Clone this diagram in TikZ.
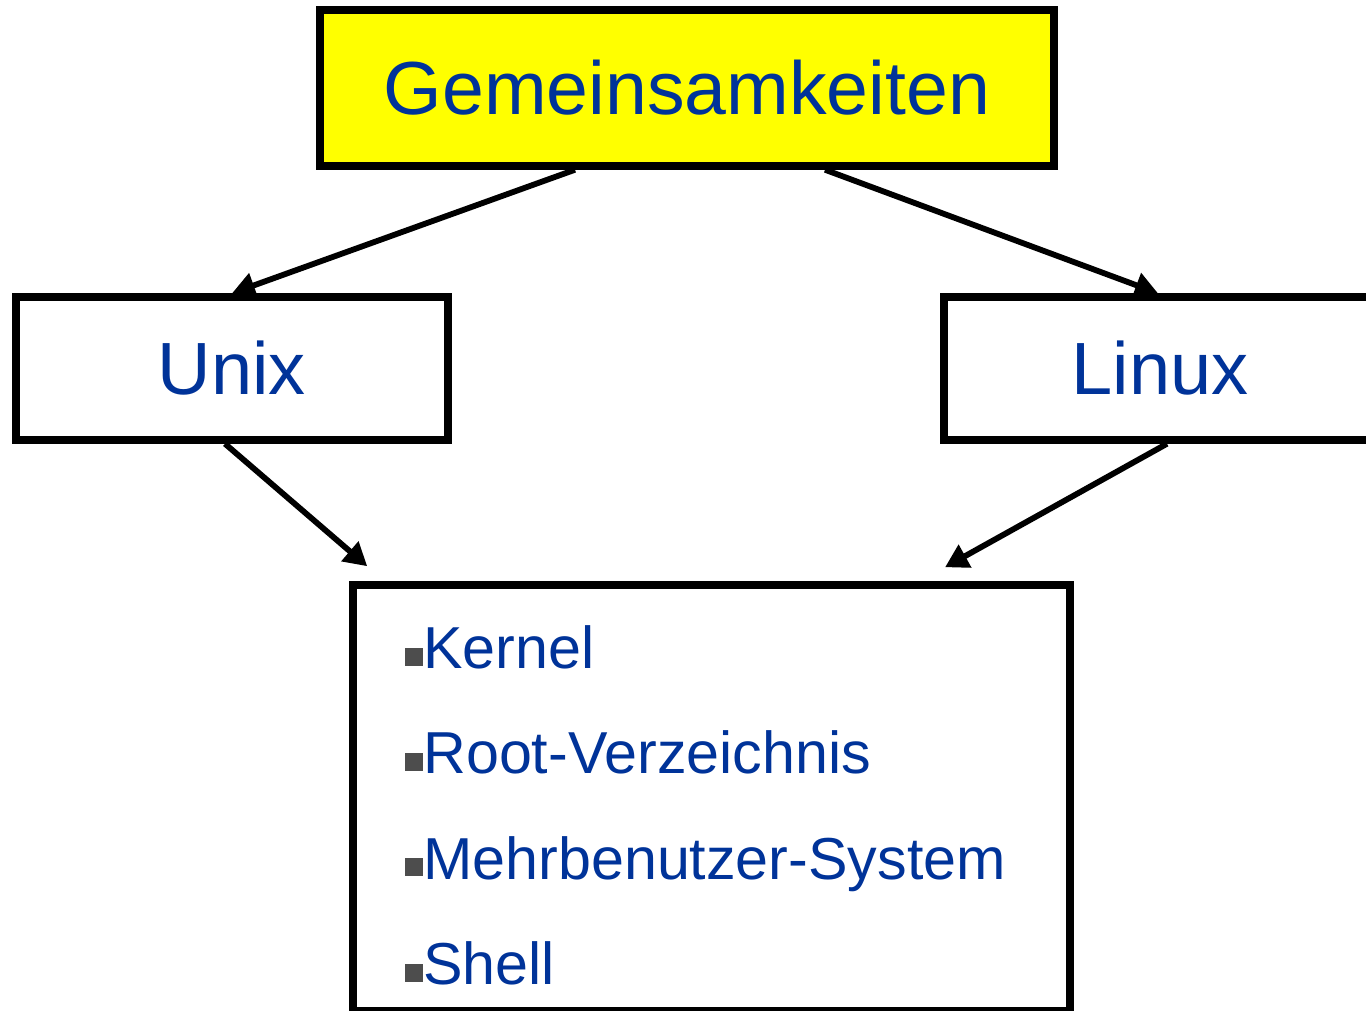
\documentclass[tikz,border=0pt]{standalone}
\usepackage{fontspec}
\setmainfont{Liberation Sans}
\usetikzlibrary{arrows.meta}
\definecolor{txtblue}{HTML}{003399}
\definecolor{boxyellow}{HTML}{FFFF00}
\definecolor{bulgray}{HTML}{4D4D4D}
\newcommand{\bul}{\textcolor{bulgray}{\rule[1.3pt]{9pt}{9pt}}}
\begin{document}
\begin{tikzpicture}[x=0.5pt,y=-0.5pt,
  box/.style={draw=black,line width=3.75pt,inner sep=0pt,text=txtblue,align=center},
  arr/.style={line width=2.9pt,-{Triangle[length=11.5pt,width=12.5pt]}},
  item/.style={anchor=base west,inner sep=0pt,text=txtblue,font=\fontsize{29.6}{34}\selectfont}]
\useasboundingbox (0,0) rectangle (1366,1011);
\clip (0,0) rectangle (1366,1011);
\fill[white] (0,0) rectangle (1366,1011);
\node[box,fill=boxyellow,minimum width=367pt,minimum height=78pt,font=\fontsize{37.6}{44}\selectfont] (top) at (687,88) {Gemeinsamkeiten};
\node[box,fill=white,minimum width=216pt,minimum height=71.5pt,font=\fontsize{37}{43}\selectfont] (unix) at (232,368.5) {Unix};
\node[box,fill=white,minimum width=216pt,minimum height=71.5pt,font=\fontsize{37}{43}\selectfont] (linux) at (1160,368.5) {Linux};
\node[box,fill=white,minimum width=358.5pt,minimum height=213pt] (list) at (711.5,798) {};
\node[item] (i1) at (405,668.5) {\bul Kernel};
\node[item] (i2) at (405,773.5) {\bul Root-Verzeichnis};
\node[item] (i3) at (405,879) {\bul Mehrbenutzer-System};
\node[item] (i4) at (405,984.5) {\bul Shell};
\coordinate (ua) at ([xshift=-56pt]top.south);
\coordinate (la) at ([xshift=69pt]top.south);
\coordinate (us) at ([xshift=-3.5pt]unix.south);
\coordinate (ls) at ([xshift=3.5pt]linux.south);
\coordinate (ue) at ([xshift=9pt,yshift=7.5pt]list.north west);
\coordinate (le) at ([xshift=116.75pt,yshift=7pt]list.north);
\draw[arr] (ua) -- (unix.north);
\draw[arr] (la) -- ([xshift=-1pt]linux.north);
\draw[arr] (us) -- (ue);
\draw[arr] (ls) -- (le);
\end{tikzpicture}
\end{document}
